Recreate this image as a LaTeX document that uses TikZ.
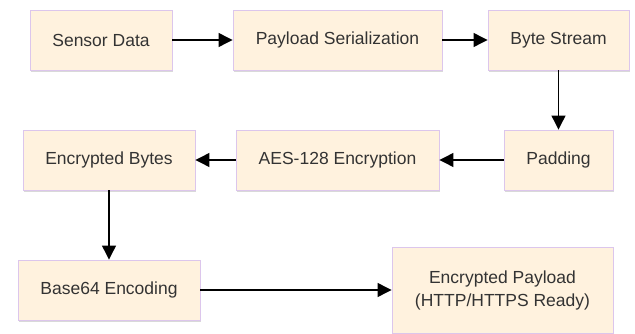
\documentclass[tikz,border=0pt]{standalone}
\usepackage{fontspec}
\setmainfont{Liberation Sans}
\usetikzlibrary{arrows.meta,shadows}
\definecolor{boxfill}{HTML}{FFF2DE}
\definecolor{boxline}{HTML}{DCC6EC}
\definecolor{txt}{HTML}{333333}
\tikzset{
  box/.style={draw=boxline, line width=0.9pt, fill=boxfill, inner sep=0pt,
    minimum height=60pt, align=center, text=txt,
    font=\fontsize{17.5}{23}\selectfont,
    drop shadow={opacity=0.25, shadow xshift=1.2pt, shadow yshift=-1.8pt, fill=black!60}},
  conn/.style={-{Triangle[length=14pt,width=14pt]}, line width=1.2pt, draw=black}
}
\begin{document}
\begin{tikzpicture}[x=1pt,y=-1pt]
\useasboundingbox (0,0) rectangle (635,334);
\node[box, minimum width=142pt] (s) at (101,40) {Sensor Data};
\node[box, minimum width=209pt] (p) at (337.5,40) {Payload Serialization};
\node[box, minimum width=141pt] (b) at (558.5,40) {Byte Stream};
\node[box, minimum width=109pt] (pad) at (558.5,160) {Padding};
\node[box, minimum width=203pt] (aes) at (337.5,160) {AES-128 Encryption};
\node[box, minimum width=172pt] (eb) at (109,160) {Encrypted Bytes};
\node[box, minimum width=182pt] (b64) at (109,290) {Base64 Encoding};
\node[box, minimum width=221pt, minimum height=86pt] (ep) at (502.5,290) {Encrypted Payload\\(HTTP/HTTPS Ready)};
\draw[conn] (s) -- (p);
\draw[conn] (p) -- (b);
\draw[conn] (b) -- (pad);
\draw[conn] (pad) -- (aes);
\draw[conn] (aes) -- (eb);
\draw[conn] (eb) -- (b64);
\draw[conn] (b64) -- (ep);
\end{tikzpicture}
\end{document}
